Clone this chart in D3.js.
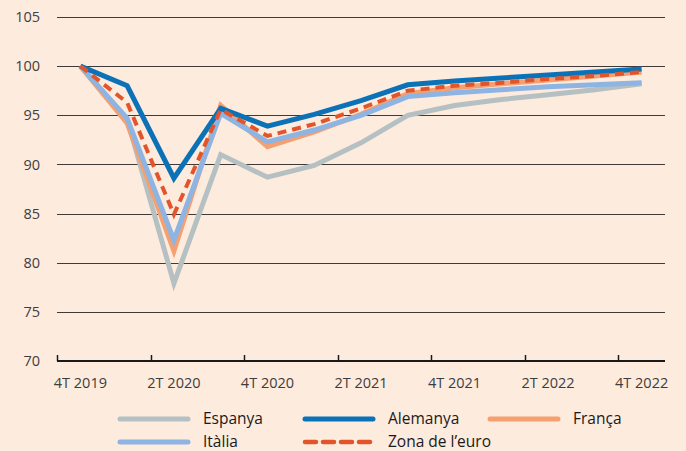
<!DOCTYPE html>
<html>
<head>
<meta charset="utf-8">
<script src="https://cdn.jsdelivr.net/npm/d3@7"></script>
<style>
  body { margin: 0; background: #fdebde; }
  svg { display: block; }
  text { font-family: "Open Sans", "Noto Sans", sans-serif; }
</style>
</head>
<body>
<svg id="chart" width="686" height="451"></svg>
<script>
/* ========================= DATA ======================== */
const quarters = ["4T 2019", "1T 2020", "2T 2020", "3T 2020", "4T 2020", "1T 2021", "2T 2021",
                  "3T 2021", "4T 2021", "1T 2022", "2T 2022", "3T 2022", "4T 2022"];
const tickQuarters = ["4T 2019", "2T 2020", "4T 2020", "2T 2021", "4T 2021", "2T 2022", "4T 2022"];
const yTicks = [70, 75, 80, 85, 90, 95, 100, 105];

const espanya  = [100, 94.6, 77.9, 91.0, 88.7, 89.9, 92.2, 95.0, 96.0, 96.6, 97.1, 97.6, 98.2];
const alemanya = [100, 98.0, 88.6, 95.7, 93.9, 95.1, 96.5, 98.1, 98.5, 98.8, 99.1, 99.4, 99.7];
const franca   = [100, 94.2, 81.2, 96.0, 91.8, 93.3, 95.1, 97.2, 97.8, 98.2, 98.6, 99.0, 99.4];
const italia   = [100, 94.7, 82.3, 95.2, 92.3, 93.5, 95.0, 96.9, 97.3, 97.6, 97.9, 98.1, 98.3];
const zonaEuro = [100, 96.3, 84.9, 95.6, 92.9, 94.1, 95.7, 97.5, 98.0, 98.3, 98.7, 99.0, 99.4];

const series = [
    { name: "Espanya",        values: espanya,  color: "#b5c0c3", dash: null },
    { name: "França",         values: franca,   color: "#f4a070", dash: null },
    { name: "Itàlia",         values: italia,   color: "#8db4e2", dash: null },
    { name: "Alemanya",       values: alemanya, color: "#0b72b8", dash: null },
    { name: "Zona de l’euro", values: zonaEuro, color: "#e2552a", dash: "9,6" }
];

/* ======================= LAYOUT ======================== */
const svg = d3.select("#chart");
const margin = { left: 57, right: 21, top: 17, bottom: 90 };
const width = 686, height = 451;

const x = d3.scaleBand()
            .domain(quarters)
            .range([margin.left, width - margin.right])
            .padding(0);
const y = d3.scaleLinear()
            .domain([70, 105])
            .range([height - margin.bottom, margin.top]);

const cx = q => x(q) + x.bandwidth() / 2;

/* ======================= GRID ========================== */
svg.append("g")
   .selectAll("line")
   .data(yTicks.filter(t => t > 70))
   .join("line")
   .attr("x1", margin.left)
   .attr("x2", width - margin.right)
   .attr("y1", d => Math.round(y(d)) + 0.5)
   .attr("y2", d => Math.round(y(d)) + 0.5)
   .attr("stroke", "#3f3a38")
   .attr("stroke-width", 1);

svg.append("g")
   .selectAll("text")
   .data(yTicks)
   .join("text")
   .attr("x", 40)
   .attr("y", d => y(d))
   .attr("dy", "0.35em")
   .attr("text-anchor", "end")
   .attr("font-size", 14.5)
   .attr("fill", "#3d3d3d")
   .text(d => d);

/* ======================= X AXIS ======================== */
const axisY = y(70);
svg.append("line")
   .attr("x1", margin.left)
   .attr("x2", width - margin.right)
   .attr("y1", axisY)
   .attr("y2", axisY)
   .attr("stroke", "#1a1a1a")
   .attr("stroke-width", 2);

svg.append("g")
   .selectAll("line")
   .data(tickQuarters)
   .join("line")
   .attr("x1", d => Math.round(x(d)) + 0.5)
   .attr("x2", d => Math.round(x(d)) + 0.5)
   .attr("y1", axisY - 6)
   .attr("y2", axisY)
   .attr("stroke", "#1a1a1a")
   .attr("stroke-width", 1.5);

svg.append("g")
   .selectAll("text")
   .data(tickQuarters)
   .join("text")
   .attr("x", d => cx(d))
   .attr("y", axisY + 22)
   .attr("dy", "0.35em")
   .attr("text-anchor", "middle")
   .attr("font-size", 14.5)
   .attr("fill", "#3d3d3d")
   .text(d => d);

/* ======================= LINES ========================= */
const line = d3.line()
               .x((d, i) => cx(quarters[i]))
               .y(d => y(d));

svg.append("g")
   .selectAll("path")
   .data(series)
   .join("path")
   .attr("d", d => line(d.values))
   .attr("fill", "none")
   .attr("stroke", d => d.color)
   .attr("stroke-width", d => d.dash ? 4 : 5)
   .attr("stroke-dasharray", d => d.dash)
   .attr("stroke-linejoin", "miter");

/* ======================= LEGEND ======================== */
const byName = name => series.find(s => s.name === name);
const legendItems = [
    { s: byName("Espanya"),        x: 118, y: 419 },
    { s: byName("Alemanya"),       x: 303, y: 419 },
    { s: byName("França"),         x: 488, y: 419 },
    { s: byName("Itàlia"),         x: 118, y: 442 },
    { s: byName("Zona de l’euro"), x: 303, y: 442 }
];

const legend = svg.append("g")
                  .selectAll("g")
                  .data(legendItems)
                  .join("g")
                  .attr("transform", d => `translate(${d.x},${d.y})`);

legend.append("line")
      .attr("x1", 2)
      .attr("x2", d => d.s.dash ? 68 : 70)
      .attr("stroke", d => d.s.color)
      .attr("stroke-width", d => d.s.dash ? 4.5 : 5)
      .attr("stroke-linecap", "round")
      .attr("stroke-dasharray", d => d.s.dash ? "11,7" : null);

legend.append("text")
      .attr("x", 85)
      .attr("dy", "0.35em")
      .attr("font-size", 15.5)
      .attr("fill", "#1a1a1a")
      .text(d => d.s.name);
</script>
</body>
</html>
